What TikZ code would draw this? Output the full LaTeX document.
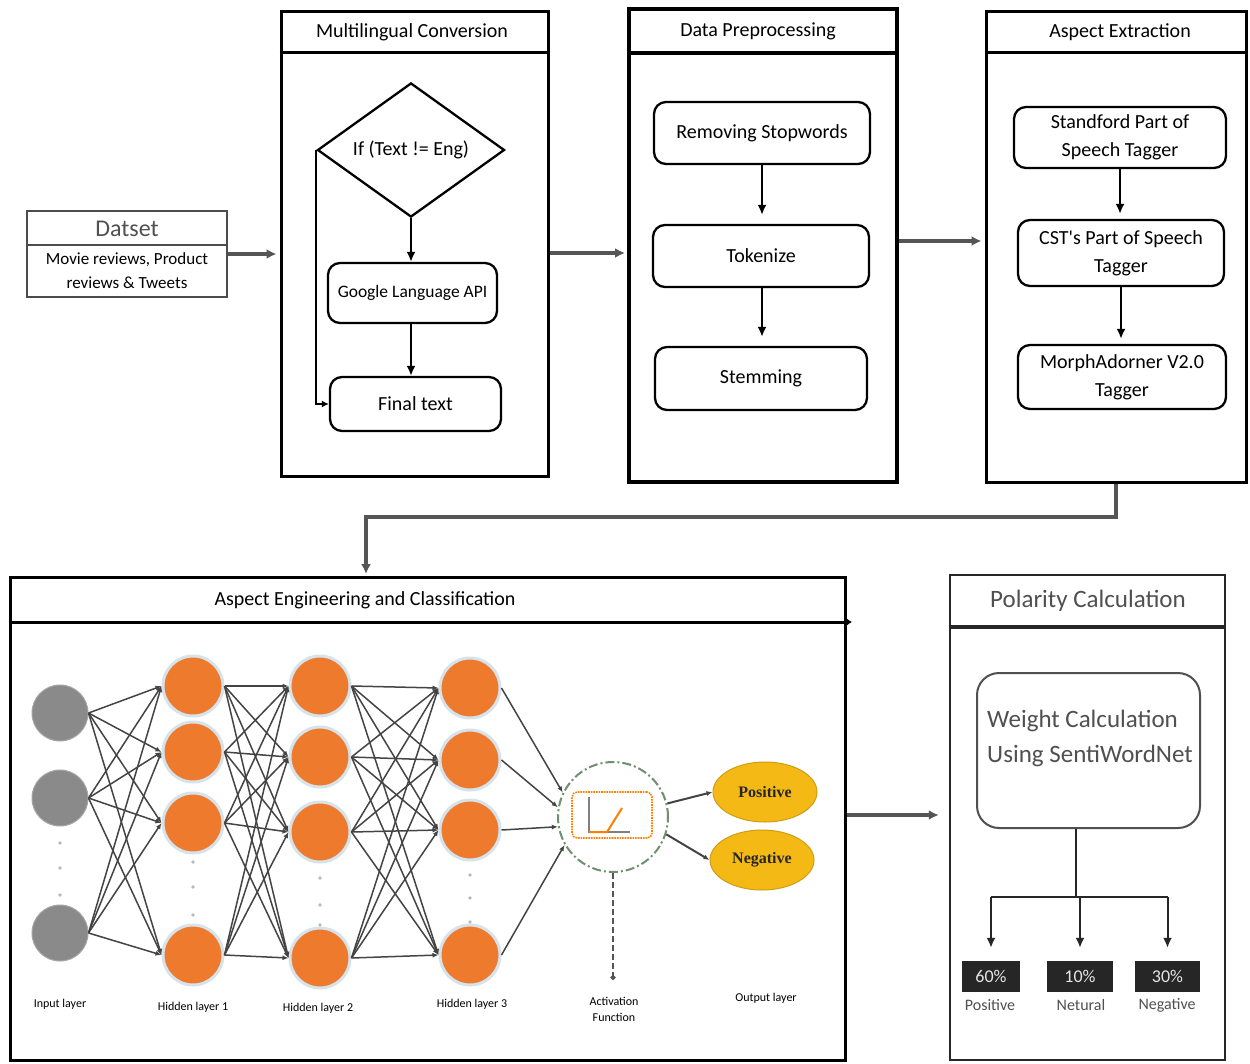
\documentclass[tikz,border=0pt]{standalone}
\usepackage{fontspec}
\setmainfont{Carlito}[Ligatures=TeXOff]
\newfontfamily\timesb{Liberation Serif}
\usetikzlibrary{arrows.meta,shapes.geometric,calc}
\definecolor{orangenode}{HTML}{EE7A2E}
\definecolor{ringc}{HTML}{D6E3EA}
\definecolor{graynode}{HTML}{8A8A8A}
\definecolor{goldnode}{HTML}{F4B915}
\definecolor{txtgray}{HTML}{505050}
\definecolor{edgegray}{HTML}{555555}
\definecolor{nnline}{HTML}{444444}
\definecolor{actgreen}{HTML}{6F8F6F}
\begin{document}
\begin{tikzpicture}[x=1pt,y=-1pt,
  panel/.style={draw=black, line width=3pt, inner sep=0pt},
  hdr/.style={font=\fontsize{20}{24}\selectfont},
  stagebox/.style={draw=black, line width=2.3pt, rounded corners=12pt, align=center, inner sep=2pt, font=\fontsize{20}{28}\selectfont},
  flow/.style={draw=black, line width=2.3pt, -{Latex[length=10pt,width=9pt]}},
  bigflow/.style={draw=edgegray, line width=3.5pt, -{Latex[length=10pt,width=10pt]}},
  innode/.style={circle, fill=graynode, draw=gray!70, line width=1pt, minimum size=56pt, inner sep=0pt},
  hidnode/.style={circle, fill=orangenode, draw=ringc, line width=3pt, minimum size=60pt, inner sep=0pt},
  nnedge/.style={draw=nnline, line width=1.5pt, -{Latex[length=6pt,width=5pt]}},
  nnlabel/.style={font=\fontsize{12}{16}\selectfont, align=center},
  outnode/.style={ellipse, fill=goldnode, draw=goldnode!85!black, line width=1pt, minimum width=104pt, minimum height=60pt, inner sep=0pt, font=\timesb\bfseries\fontsize{16}{18}\selectfont, text=black!85},
  pct/.style={fill=black!85, text=white!90!black, minimum height=31pt, inner sep=0pt, font=\fontsize{18}{20}\selectfont},
  pctlabel/.style={text=txtgray, font=\fontsize{16}{18}\selectfont}
]
\useasboundingbox[fill=white] (0,0) rectangle (1250,1063);

% ---------- Dataset ----------
\node[panel, minimum width=200pt, minimum height=86pt, draw=gray!60!black, line width=1.5pt] (dset) at (127,254) {};
\draw[gray!60!black, line width=1.5pt] (dset.west |- 0,245) -- (dset.east |- 0,245);
\node[font=\fontsize{24}{28}\selectfont, text=txtgray] (dsettitle) at (127,229) {Datset};
\node[align=center, font=\fontsize{17}{24}\selectfont] (dsetbody) at (127,271) {Movie reviews, Product\\reviews \& Tweets};

% ---------- Multilingual Conversion ----------
\node[panel, minimum width=267pt, minimum height=465pt] (mlc) at (414.5,243.5) {};
\draw[line width=3pt] (mlc.west |- 0,52) -- (mlc.east |- 0,52);
\node[hdr] (mlct) at (412,32) {Multilingual Conversion};
\node[diamond, draw, line width=2.3pt, minimum width=187pt, minimum height=130pt, inner sep=0pt, hdr] (dia) at (411,150) {If (Text != Eng)};
\node[stagebox, minimum width=169pt, minimum height=60pt, font=\fontsize{17.5}{20}\selectfont] (gla) at (412.5,293) {Google Language API};
\node[stagebox, minimum width=171pt, minimum height=54pt] (fin) at (415.5,404) {Final text};
\draw[flow] (dia.south) -- (dia.south |- gla.north);
\draw[flow] (dia.south |- gla.south) -- (dia.south |- fin.north);
\draw[flow, line width=2pt, -{Latex[length=7pt,width=7pt]}] (dia.west) -- (dia.west |- fin.west) -- (fin.west);

% ---------- Data Preprocessing ----------
\node[panel, line width=4pt, minimum width=268pt, minimum height=473pt] (dp) at (763,245.5) {};
\draw[line width=4pt] (dp.west |- 0,53) -- (dp.east |- 0,53);
\node[hdr] (dpt) at (758,31) {Data Preprocessing};
\node[stagebox, minimum width=216pt, minimum height=62pt] (rs) at (762,133) {Removing Stopwords};
\node[stagebox, minimum width=216pt, minimum height=62pt] (tok) at (761,256) {Tokenize};
\node[stagebox, minimum width=212pt, minimum height=63pt] (stm) at (761,378.5) {Stemming};
\draw[flow, shorten >=9pt] (rs.south) -- (rs.south |- tok.north);
\draw[flow, shorten >=9pt] (rs.south |- tok.south) -- (rs.south |- stm.north);

% ---------- Aspect Extraction ----------
\node[panel, minimum width=260pt, minimum height=471pt] (ae) at (1116,246.5) {};
\draw[line width=3pt] (ae.west |- 0,52) -- (ae.east |- 0,52);
\node[hdr] (aet) at (1120,32) {Aspect Extraction};
\node[stagebox, minimum width=212pt, minimum height=61pt] (sp) at (1120,137.5) {Standford Part of\\Speech Tagger};
\node[stagebox, minimum width=206pt, minimum height=66pt] (cst) at (1121,253) {CST's Part of Speech\\Tagger};
\node[stagebox, minimum width=208pt, minimum height=64pt] (mor) at (1122,377) {MorphAdorner V2.0\\Tagger};
\draw[flow, shorten >=5pt] (sp.south) -- (sp.south |- cst.north);
\draw[flow, shorten >=5pt] (cst.south) -- (cst.south |- mor.north);

% ---------- top connectors ----------
\draw[bigflow, shorten >=3pt] (dset.east) -- (mlc.west |- dset.east);
\draw[bigflow, shorten >=2pt] (mlc.east |- 0,253) -- (dp.west |- 0,253);
\draw[bigflow, shorten >=3pt] (dp.east |- 0,241) -- (ae.west |- 0,241);
\coordinate (turn) at (366,517);
\draw[bigflow, shorten >=3pt] (ae.south) |- (turn) -- (turn |- 0,577);

% ---------- Aspect Engineering and Classification ----------
\node[panel, minimum width=835pt, minimum height=483pt] (aec) at (427.5,818.5) {};
\draw[line width=3pt, -{Latex[length=5pt,width=7pt]}] (aec.west |- 0,622) -- (852,622);
\node[hdr] (aect) at (365,600) {Aspect Engineering and Classification};

% neural network
\foreach \i/\y in {1/713,2/798,3/933} \node[innode] (in\i) at (60,\y) {};
\foreach \i/\y in {1/686,2/752,3/823,4/955} \node[hidnode] (ha\i) at (193,\y) {};
\foreach \i/\y in {1/686,2/757,3/832,4/958} \node[hidnode] (hb\i) at (320,\y) {};
\foreach \i/\y in {1/688,2/760,3/830,4/955} \node[hidnode] (hc\i) at (470,\y) {};
\foreach \s in {1,2,3} \foreach \t in {1,2,3,4} \draw[nnedge] (in\s.east) -- (ha\t.west);
\foreach \s in {1,2,3,4} \foreach \t in {1,2,3,4} \draw[nnedge] (ha\s.east) -- (hb\t.west);
\foreach \s in {1,2,3,4} \foreach \t in {1,2,3,4} \draw[nnedge] (hb\s.east) -- (hc\t.west);
\foreach \x/\ya/\yb/\yc in {60/843/868/895, 193/862/887/915, 320/878/905/925, 470/875/898/922}
  {\fill[gray!55] (\x,\ya) circle (1.8pt) (\x,\yb) circle (1.8pt) (\x,\yc) circle (1.8pt);}

% activation
\node[circle, draw=actgreen, dash pattern=on 9pt off 3pt on 2pt off 3pt, line width=2pt, minimum size=110pt, inner sep=0pt] (act) at (613,817) {};
\node[draw=orange, densely dotted, line width=1.6pt, rounded corners=5pt, minimum width=80pt, minimum height=46pt, inner sep=0pt] (actbox) at (612,815) {};
\draw[gray, line width=1.2pt] (589,797) -- (589,832) -- (630,832);
\draw[orange, line width=2pt] (589,832) -- (607,832) -- (622,808);
\draw[nnedge] (hc1.east) -- (act.154);
\draw[nnedge] (hc2.east) -- (act.170);
\draw[nnedge] (hc3.east) -- (act.190);
\draw[nnedge] (hc4.east) -- (act.210);
\node[outnode] (pos) at (765,792) {Positive};
\node[outnode] (neg) at (762,860) {Negative};
\draw[nnedge, line width=2pt] (act.14) -- (pos.west);
\draw[nnedge, line width=2pt] (act.-18) -- (neg.west);
\coordinate (actend) at (613,980);
\draw[draw=edgegray, line width=2pt, dash pattern=on 6pt off 3pt, -{Circle[length=5pt]}] (act.south) -- (actend);

% nn labels
\node[nnlabel] (lin) at (60,1004) {Input layer};
\node[nnlabel] (lh1) at (193,1007) {Hidden layer 1};
\node[nnlabel] (lh2) at (318,1008) {Hidden layer 2};
\node[nnlabel] (lh3) at (472,1004) {Hidden layer 3};
\node[nnlabel] (lact) at (614,1009) {Activation\\Function};
\node[nnlabel] (lout) at (766,998) {Output layer};

% ---------- Polarity Calculation ----------
\node[panel, draw=black!85, line width=2.5pt, minimum width=275pt, minimum height=485pt] (pol) at (1087.5,817.5) {};
\draw[black!85, line width=3.5pt] (pol.west |- 0,627) -- (pol.east |- 0,627);
\node[font=\fontsize{25}{30}\selectfont, text=txtgray] (polt) at (1088,601) {Polarity Calculation};
\node[draw=txtgray, line width=2pt, rounded corners=22pt, minimum width=223pt, minimum height=155pt] (wc) at (1088.5,750.5) {};
\node[font=\fontsize{25}{35}\selectfont, text=txtgray, align=left] (wct) at (1090,738) {Weight Calculation\\Using SentiWordNet};
\draw[bigflow, shorten >=10pt] (aec.east |- 0,815) -- (pol.west |- 0,815);

\node[pct, minimum width=58pt] (b60) at (991,976.5) {60\%};
\node[pct, minimum width=66pt] (b10) at (1080,976.5) {10\%};
\node[pct, minimum width=65pt] (b30) at (1167.5,976.5) {30\%};
\node[pctlabel] (l60) at (990,1005) {Positive};
\node[pctlabel] (l10) at (1081,1005) {Netural};
\node[pctlabel] (l30) at (1167,1005) {Negative};
\coordinate (split) at (1076,897);
\draw[black!85, line width=2pt] (wc.south -| split) -- (split);
\draw[black!85, line width=2pt] (b60.north |- split) -- (b30.north |- split);
\draw[flow, line width=2pt, draw=black!85, shorten >=13pt] (b60.north |- split) -- (b60.north);
\draw[flow, line width=2pt, draw=black!85, shorten >=13pt] (b10.north |- split) -- (b10.north);
\draw[flow, line width=2pt, draw=black!85, shorten >=13pt] (b30.north |- split) -- (b30.north);
\end{tikzpicture}
\end{document}
